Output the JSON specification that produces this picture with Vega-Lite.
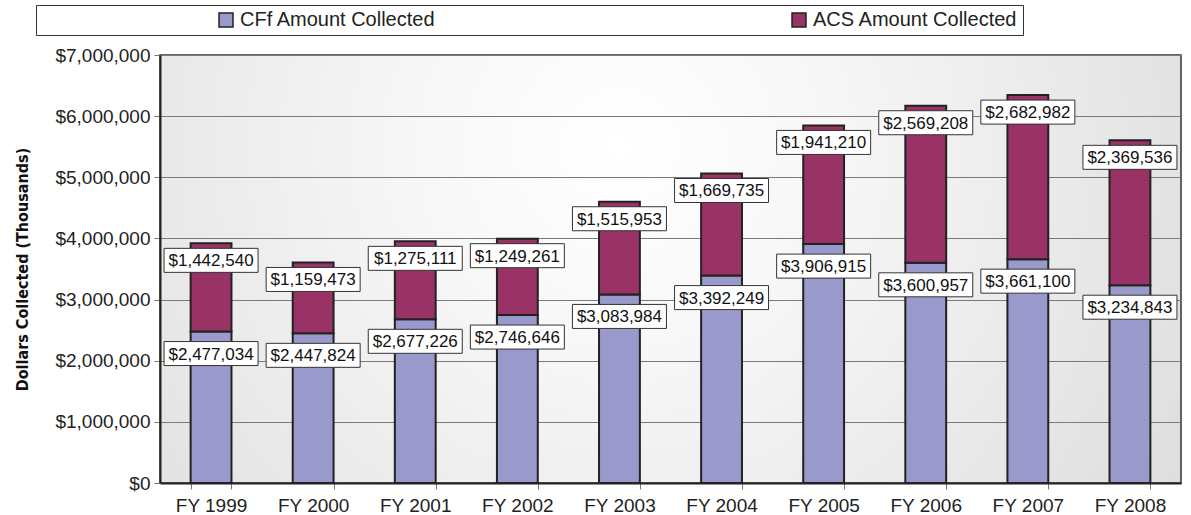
{
  "$schema": "https://vega.github.io/schema/vega-lite/v6.json",
  "width": 1021,
  "height": 428,
  "autosize": {"type": "none"},
  "padding": {"left": 160, "top": 55, "right": 10, "bottom": 32},
  "background": "white",
  "config": {
    "font": "Liberation Sans",
    "view": {
      "fill": {
        "gradient": "radial",
        "x1": 0.45, "y1": 0.38, "r1": 0,
        "x2": 0.45, "y2": 0.38, "r2": 0.8,
        "stops": [
          {"offset": 0, "color": "#ffffff"},
          {"offset": 0.25, "color": "#f7f7f7"},
          {"offset": 1, "color": "#d5d5d5"}
        ]
      },
      "stroke": "#333333",
      "strokeWidth": 1.5
    },
    "axis": {
      "domainColor": "#222222",
      "domainWidth": 2,
      "tickColor": "#777777",
      "tickWidth": 1,
      "tickSize": 6,
      "labelColor": "#222222",
      "labelFont": "Liberation Sans"
    }
  },
  "data": {
    "values": [
      {"year": "FY 1999", "series": "CFf Amount Collected", "value": 2477034},
      {"year": "FY 1999", "series": "ACS Amount Collected", "value": 1442540},
      {"year": "FY 2000", "series": "CFf Amount Collected", "value": 2447824},
      {"year": "FY 2000", "series": "ACS Amount Collected", "value": 1159473},
      {"year": "FY 2001", "series": "CFf Amount Collected", "value": 2677226},
      {"year": "FY 2001", "series": "ACS Amount Collected", "value": 1275111},
      {"year": "FY 2002", "series": "CFf Amount Collected", "value": 2746646},
      {"year": "FY 2002", "series": "ACS Amount Collected", "value": 1249261},
      {"year": "FY 2003", "series": "CFf Amount Collected", "value": 3083984},
      {"year": "FY 2003", "series": "ACS Amount Collected", "value": 1515953},
      {"year": "FY 2004", "series": "CFf Amount Collected", "value": 3392249},
      {"year": "FY 2004", "series": "ACS Amount Collected", "value": 1669735},
      {"year": "FY 2005", "series": "CFf Amount Collected", "value": 3906915},
      {"year": "FY 2005", "series": "ACS Amount Collected", "value": 1941210},
      {"year": "FY 2006", "series": "CFf Amount Collected", "value": 3600957},
      {"year": "FY 2006", "series": "ACS Amount Collected", "value": 2569208},
      {"year": "FY 2007", "series": "CFf Amount Collected", "value": 3661100},
      {"year": "FY 2007", "series": "ACS Amount Collected", "value": 2682982},
      {"year": "FY 2008", "series": "CFf Amount Collected", "value": 3234843},
      {"year": "FY 2008", "series": "ACS Amount Collected", "value": 2369536}
    ]
  },
  "transform": [
    {"stack": "value", "groupby": ["year"], "sort": [{"field": "series", "order": "descending"}], "as": ["v0", "v1"]}
  ],
  "encoding": {
    "x": {
      "field": "year",
      "type": "nominal",
      "scale": {"paddingInner": 0.6, "paddingOuter": 0.3},
      "axis": {
        "title": null,
        "labelAngle": 0,
        "tickBand": "extent",
        "labelFontSize": 19,
        "labelPadding": 7
      }
    }
  },
  "layer": [
    {
      "mark": {"type": "bar", "stroke": "#222222", "strokeWidth": 2},
      "encoding": {
        "y": {
          "field": "v0",
          "type": "quantitative",
          "scale": {"domain": [0, 7000000], "nice": false},
          "axis": {
            "values": [0, 1000000, 2000000, 3000000, 4000000, 5000000, 6000000, 7000000],
            "format": "$,.0f",
            "labelFontSize": 19,
            "labelPadding": 4,
            "grid": true,
            "gridColor": "#7a7a7a",
            "gridWidth": 1,
            "title": "Dollars Collected (Thousands)",
            "titleFont": "DejaVu Sans Condensed, Liberation Sans",
            "titleFontSize": 16,
            "titleFontWeight": "bold",
            "titleColor": "#111111",
            "titleAngle": -90,
            "titleX": -138,
            "titleY": 214,
            "titleAlign": "center",
            "titleBaseline": "middle"
          }
        },
        "y2": {"field": "v1"},
        "color": {
          "field": "series",
          "type": "nominal",
          "scale": {
            "domain": ["CFf Amount Collected", "ACS Amount Collected"],
            "range": ["#9999cc", "#993366"]
          },
          "legend": {
            "title": null,
            "orient": "none",
            "legendX": -124,
            "legendY": -50,
            "direction": "horizontal",
            "columns": 2,
            "gridAlign": "all",
            "columnPadding": 169,
            "fillColor": "white",
            "strokeColor": "#333333",
            "padding": 5,
            "symbolType": "square",
            "symbolSize": 196,
            "symbolStrokeColor": "#222222",
            "symbolStrokeWidth": 1.5,
            "symbolOpacity": 1,
            "symbolOffset": 175,
            "labelOffset": 4,
            "labelFontSize": 20,
            "labelColor": "#222222",
            "labelLimit": 400
          }
        }
      }
    },
    {
      "transform": [{"filter": "datum.series == 'CFf Amount Collected'"}],
      "mark": {"type": "tick", "size": 94, "thickness": 24, "color": "white", "opacity": 1, "stroke": "#333333", "strokeWidth": 1, "yOffset": 22},
      "encoding": {"y": {"field": "v1", "type": "quantitative"}}
    },
    {
      "transform": [{"filter": "datum.series == 'ACS Amount Collected'"}],
      "mark": {"type": "tick", "size": 94, "thickness": 24, "color": "white", "opacity": 1, "stroke": "#333333", "strokeWidth": 1, "yOffset": 17},
      "encoding": {"y": {"field": "v1", "type": "quantitative"}}
    },
    {
      "transform": [{"filter": "datum.series == 'CFf Amount Collected'"}],
      "mark": {"type": "text", "fontSize": 17, "color": "#111111", "baseline": "middle", "yOffset": 23},
      "encoding": {
        "y": {"field": "v1", "type": "quantitative"},
        "text": {"field": "value", "type": "quantitative", "format": "$,.0f"}
      }
    },
    {
      "transform": [{"filter": "datum.series == 'ACS Amount Collected'"}],
      "mark": {"type": "text", "fontSize": 17, "color": "#111111", "baseline": "middle", "yOffset": 18},
      "encoding": {
        "y": {"field": "v1", "type": "quantitative"},
        "text": {"field": "value", "type": "quantitative", "format": "$,.0f"}
      }
    }
  ]
}
